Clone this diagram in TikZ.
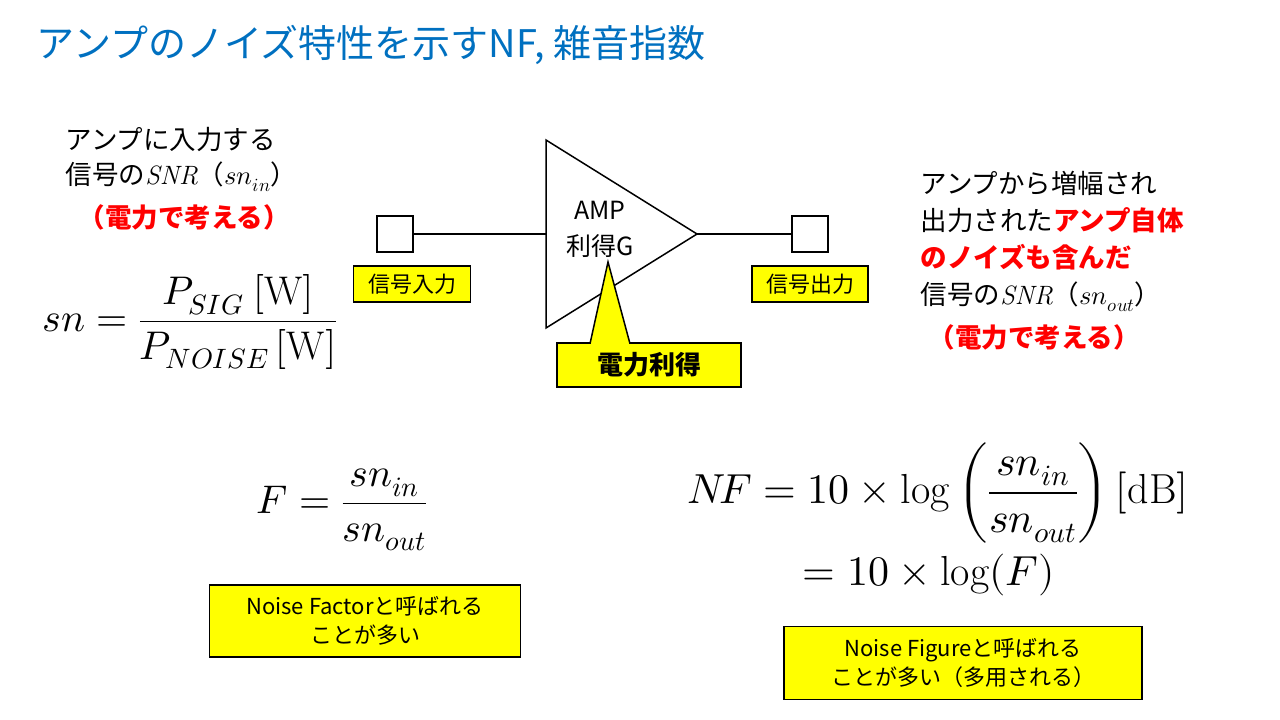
\documentclass[tikz,border=0pt]{standalone}
\usepackage{amsmath}
\usepackage{unicode-math}
\setmainfont{Noto Sans CJK JP}
\setmathfont{Latin Modern Math}
\setmathrm{Latin Modern Roman}
\definecolor{titleblue}{RGB}{0,112,192}
\definecolor{callyellow}{RGB}{255,255,0}
\tikzset{every picture/.style={line width=1.5pt}}
\tikzset{
  jtext/.style={anchor=west,inner sep=0pt,font=\fontsize{26.5}{30}\selectfont},
  redtext/.style={jtext,text=red,font=\fontsize{26.5}{30}\selectfont\bfseries},
  ybox/.style={draw,fill=callyellow,inner sep=0pt,align=center,font=\fontsize{22}{29}\selectfont},
  port/.style={draw,fill=white,minimum size=36pt,inner sep=0pt},
  bigmath/.style={inner sep=0pt,font=\fontsize{40}{46}\selectfont}
}
\begin{document}
\begin{tikzpicture}[x=1pt,y=1pt,yscale=-1,xscale=1]
\useasboundingbox (0,0) rectangle (1280,720);

% title
\node (title) [anchor=west,inner sep=0pt,text=titleblue,font=\fontsize{38}{42}\selectfont] at (36,45) {アンプのノイズ特性を示すNF, 雑音指数};

% left description
\node (inA) [jtext] at (65,140) {アンプに入力する};
\node (inB) [jtext] at (65,177) {信号の$\mathit{SNR}$（$sn_{in}$）};
\node (inC) [redtext] at (78,217) {（電力で考える）};
\node (snf) [bigmath] at (190,322) {$sn=\dfrac{P_{SIG}\ [\mathrm{W}]}{P_{NOISE}\,[\mathrm{W}]}$};

% amplifier
\coordinate (ampIn) at (546,234);
\coordinate (ampOut) at (697,234);
\draw[fill=white] (546,140) -- (ampOut) -- (546,328) -- cycle;
\node (portL) [port] at (395,234) {};
\node (portR) [port] at (810,234) {};
\draw (portL.east) -- (ampIn);
\draw (ampOut) -- (portR.west);
\node (amp) [align=center,inner sep=0pt,font=\fontsize{25}{36}\selectfont] at (600,229) {AMP\\利得G};
\node (sigin) [ybox,minimum width=117pt,minimum height=36pt] at (412,284) {信号入力};
\node (sigout) [ybox,minimum width=116pt,minimum height=36pt] at (810,284) {信号出力};

% callout
\node (gain) [draw,fill=callyellow,minimum width=184pt,minimum height=44pt,inner sep=0pt,font=\fontsize{26}{30}\selectfont\bfseries] at (649,365) {電力利得};
\draw[fill=callyellow] (590,343.75) -- (608,262) -- (630,343.75);
\draw[callyellow,line width=2pt] (591.5,344) -- (628.5,344);

% right description
\node (outA) [jtext] at (920,183) {アンプから増幅され};
\node (outB) [jtext] at (920,220) {出力された\textcolor{red}{\bfseries アンプ自体}};
\node (outC) [redtext] at (920,257) {のノイズも含んだ};
\node (outD) [jtext] at (920,297) {信号の$\mathit{SNR}$（$sn_{out}$）};
\node (outE) [redtext] at (928,337) {（電力で考える）};

% formulas
\node (ff) [bigmath] at (342,510) {$F=\dfrac{sn_{in}}{sn_{out}}$};
\node (nf) [bigmath,font=\fontsize{42}{48}\selectfont] at (938,493) {$N\!F=10\times\log\left(\dfrac{sn_{in}}{sn_{out}}\right)[\mathrm{dB}]$};
\node (nf2) [bigmath,font=\fontsize{42}{48}\selectfont,anchor=west] at (802,575) {$=10\times\log(F)$};

% notes
\node (noteF) [ybox,minimum width=311pt,minimum height=72pt] at (365,621) {Noise Factorと呼ばれる\\ことが多い};
\node (noteNF) [ybox,minimum width=358pt,minimum height=73pt] at (963,663) {Noise Figureと呼ばれる\\ことが多い（多用される）};

\end{tikzpicture}
\end{document}
